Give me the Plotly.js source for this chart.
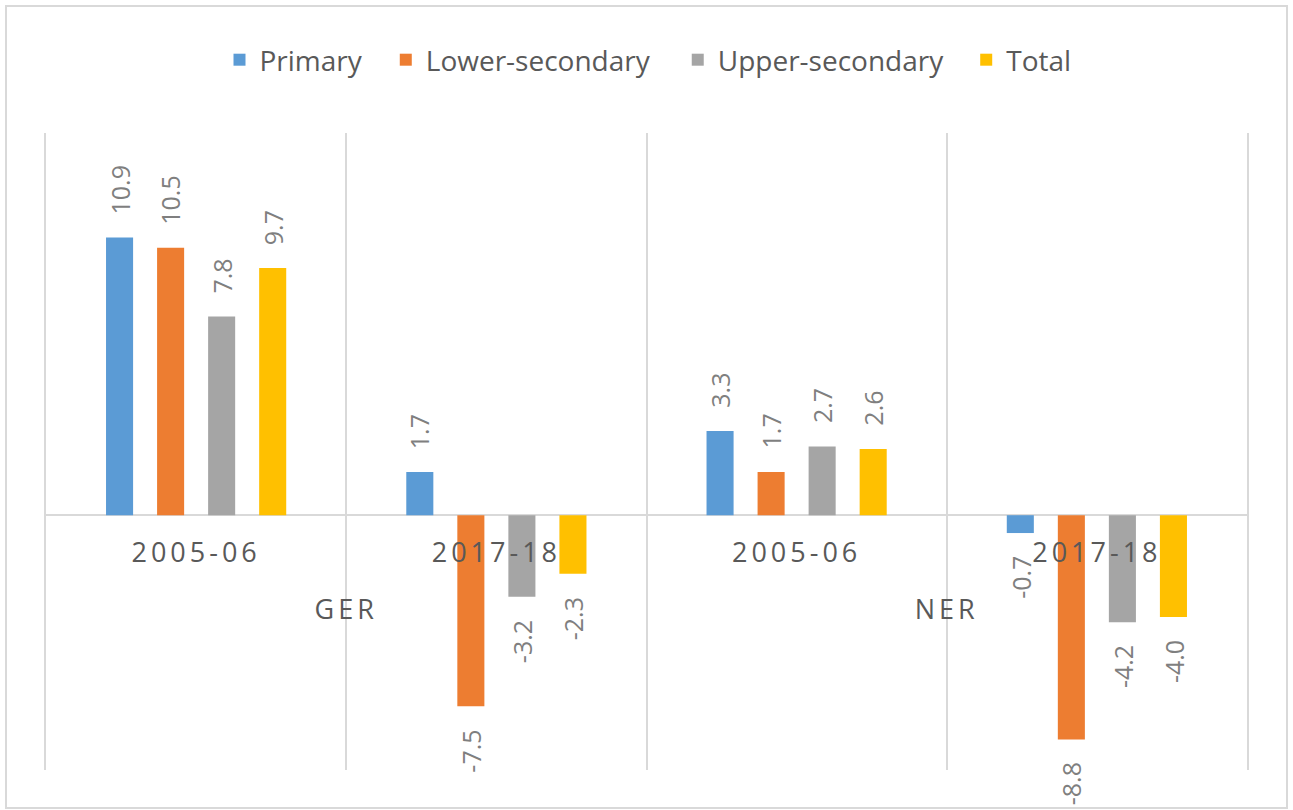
<!DOCTYPE html>
<html><head><meta charset="utf-8">
<script src="https://cdn.plot.ly/plotly-3.0.1.min.js"></script>
<style>
html,body{margin:0;padding:0;background:#fff;}
#chart{width:1293px;height:810px;}
#frame{position:absolute;left:5px;top:5px;width:1279px;height:800px;border:2px solid #d9d9d9;pointer-events:none;}
g.xaxislayer-above text{letter-spacing:4px;}
g.xtick2 text{translate:0px 37px;}
g.legend .scrollbox{clip-path:none !important;}
g.legend g.groups > g.traces:nth-child(1){translate:-27px 0px;}
g.legend g.groups > g.traces:nth-child(2){translate:-9px 0px;}
g.legend g.groups > g.traces:nth-child(3){translate:13px 0px;}
g.legend g.groups > g.traces:nth-child(4){translate:30px 0px;}
</style></head><body>
<div id="chart"></div><div id="frame"></div>
<script>
const indicators = ["GER", "GER", "NER", "NER"];
const periods = ["2005-06", "2017-18", "2005-06", "2017-18"];
const seriesNames = ["Primary", "Lower-secondary", "Upper-secondary", "Total"];
const primary = [10.9, 1.7, 3.3, -0.7];
const lowerSecondary = [10.5, -7.5, 1.7, -8.8];
const upperSecondary = [7.8, -3.2, 2.7, -4.2];
const total = [9.7, -2.3, 2.6, -4.0];

const seriesValues = [primary, lowerSecondary, upperSecondary, total];
const colors = ["#5b9bd5", "#ed7d31", "#a5a5a5", "#ffc000"];
const bargap = 0.32;
const FONT = "Open Sans, Noto Sans, sans-serif";

const traces = seriesValues.map((vals, i) => ({
  type: "bar",
  name: seriesNames[i],
  x: [indicators, periods],
  y: vals,
  marker: {color: colors[i]},
  hoverinfo: "skip"
}));

const annotations = [];
seriesValues.forEach((vals, s) => {
  vals.forEach((v, c) => {
    annotations.push({
      xref: "x", yref: "y",
      x: c + (s - (seriesValues.length - 1) / 2) * (1 - bargap) / seriesValues.length,
      y: v,
      text: v.toFixed(1),
      showarrow: false,
      textangle: -90,
      xanchor: "center",
      yanchor: v >= 0 ? "bottom" : "top",
      yshift: v >= 0 ? 21 : -21,
      font: {family: FONT, size: 25, color: "#7f7f7f"}
    });
  });
});

const layout = {
  width: 1293, height: 810,
  margin: {l: 46, r: 46, t: 133, b: 40},
  paper_bgcolor: "#ffffff", plot_bgcolor: "#ffffff",
  barmode: "group", bargap: bargap, bargroupgap: 0.47,
  showlegend: true,
  legend: {orientation: "h", x: 0.5, xanchor: "center", y: 1.1146, yanchor: "middle",
           font: {family: FONT, size: 28, color: "#595959"}, traceorder: "normal"},
  xaxis: {
    type: "multicategory", anchor: "free", position: 0.4,
    tickson: "boundaries", showgrid: true, gridcolor: "#d9d9d9", gridwidth: 2,
    showline: false, ticks: "", showdividers: false, zeroline: false,
    ticklabelstandoff: 19,
    tickfont: {family: FONT, size: 27, color: "#595959"}
  },
  yaxis: {
    range: [-10, 15], showticklabels: false, showgrid: false,
    zeroline: true, zerolinecolor: "#d9d9d9", zerolinewidth: 2,
    showline: true, mirror: true, linecolor: "#d9d9d9", linewidth: 2, ticks: ""
  },
  annotations: annotations
};

Plotly.newPlot("chart", traces, layout, {displayModeBar: false, staticPlot: true});
</script>
</body></html>
